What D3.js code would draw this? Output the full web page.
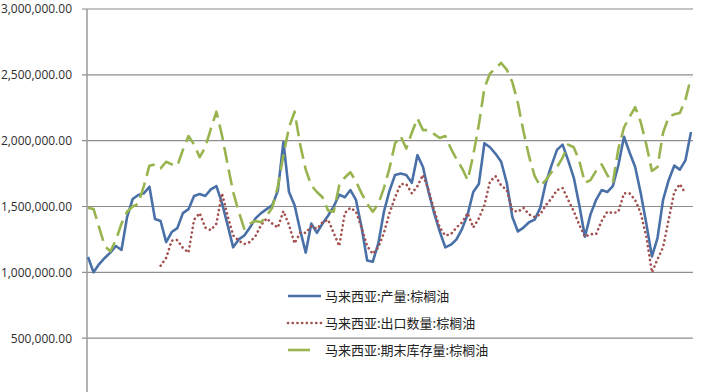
<!DOCTYPE html>
<html>
<head>
<meta charset="utf-8">
<script src="https://cdn.jsdelivr.net/npm/d3@7"></script>
<style>
  body { margin: 0; background: #fff; }
  svg { display: block; }
</style>
</head>
<body>
<div class="box"></div>
<script>
// values in thousands of tonnes, one per month
var production = [1116, 1000, 1063, 1109, 1150, 1200, 1170, 1420, 1557, 1587, 1600, 1650, 1405, 1390, 1230, 1306, 1336, 1450, 1480, 1580,
  1595, 1580, 1630, 1655, 1526, 1360, 1190, 1250, 1280, 1340, 1410, 1450, 1480, 1510, 1620, 1990, 1610, 1510, 1320, 1150,
  1370, 1300, 1370, 1430, 1500, 1590, 1570, 1625, 1550, 1340, 1090, 1080, 1220, 1460, 1620, 1740, 1750, 1740, 1680, 1890,
  1800, 1610, 1450, 1310, 1190, 1210, 1250, 1330, 1440, 1610, 1670, 1980, 1950, 1900, 1840, 1680, 1420, 1310, 1340, 1380,
  1400, 1490, 1680, 1810, 1930, 1970, 1850, 1720, 1510, 1270, 1440, 1550, 1625, 1610, 1655, 1815, 2030, 1910, 1800, 1600,
  1370, 1120, 1260, 1550, 1700, 1810, 1780, 1850, 2065];

var exports = [null, null, null, null, null, null, null, null, null, null, null, null, null, 1050, 1110, 1240, 1245, 1185, 1150, 1400,
  1450, 1340, 1320, 1370, 1600, 1430, 1280, 1240, 1215, 1230, 1275, 1360, 1410, 1370, 1340, 1465, 1360, 1220, 1300, 1300,
  1350, 1330, 1380, 1400, 1300, 1200, 1450, 1490, 1460, 1340, 1200, 1140, 1190, 1300, 1450, 1570, 1670, 1670, 1600, 1655,
  1740, 1625, 1470, 1340, 1280, 1290, 1340, 1380, 1450, 1340, 1410, 1510, 1690, 1730, 1660, 1625, 1470, 1460, 1490, 1440,
  1420, 1440, 1510, 1560, 1625, 1640, 1550, 1465, 1360, 1270, 1290, 1290, 1390, 1460, 1450, 1460, 1600, 1600, 1550, 1450,
  1270, 1000, 1100, 1190, 1400, 1610, 1670, 1600, null];

var stocks = [1490, 1480, 1340, 1200, 1160, 1245, 1370, 1460, 1500, 1520, 1655, 1810, 1820, 1790, 1840, 1820, 1810, 1930, 2035, 1970,
  1875, 1950, 2090, 2220, 2040, 1820, 1610, 1460, 1330, 1370, 1390, 1380, 1430, 1490, 1650, 1890, 2100, 2220, 1970, 1780,
  1660, 1610, 1570, 1470, 1460, 1660, 1720, 1760, 1690, 1600, 1520, 1460, 1520, 1640, 1790, 1980, 2035, 1940, 2060, 2170,
  2080, 2080, 2050, 2020, 2035, 1940, 1860, 1790, 1700, 1890, 2120, 2400, 2510, 2550, 2590, 2540, 2445, 2285, 2070, 1880,
  1730, 1655, 1700, 1760, 1800, 1870, 1970, 1950, 1845, 1680, 1700, 1770, 1820, 1740, 1680, 1940, 2100, 2180, 2255, 2140,
  1970, 1770, 1800, 2060, 2180, 2200, 2210, 2310, 2480];

var seriesNames = ["马来西亚:产量:棕榈油", "马来西亚:出口数量:棕榈油", "马来西亚:期末库存量:棕榈油"];
// the 0 line sits just below the visible area
var yTicks = [500, 1000, 1500, 2000, 2500, 3000];

var width = 720, height = 392;

var svg = d3.create("svg")
  .attr("width", width)
  .attr("height", height)
  .attr("viewBox", [0, 0, width, height]);

var x = d3.scaleLinear().domain([0, production.length - 1]).range([88, 691]);
var y = d3.scaleLinear().domain([0, 3000]).range([404, 9]);

// gridlines
svg.append("g")
  .selectAll("line")
  .data(yTicks)
  .join("line")
  .attr("x1", 82)
  .attr("x2", 693)
  .attr("y1", d => y(d))
  .attr("y2", d => y(d))
  .attr("stroke", d => d === 3000 ? "#c4c4c4" : "#8e8e8e")
  .attr("stroke-width", d => d === 3000 ? 2 : 1.2);

// y axis
var yAxis = svg.append("g")
  .attr("transform", "translate(87,0)")
  .call(d3.axisLeft(y).tickValues(yTicks).tickSize(0).tickPadding(15)
    .tickFormat(d => d3.format(",.2f")(d * 1000)));
yAxis.select(".domain").remove();
yAxis.selectAll("text")
  .attr("fill", "#2e2e2e")
  .style("font-family", "'Open Sans', sans-serif")
  .style("font-size", "12px");

svg.append("line")
  .attr("x1", 87).attr("x2", 87)
  .attr("y1", 9).attr("y2", height)
  .attr("stroke", "#9a9a9a")
  .attr("stroke-width", 1.5);

var line = d3.line()
  .defined(d => d != null)
  .x((d, i) => x(i))
  .y(d => y(d));

var styles = [
  { data: production, color: "#4a70a8", width: 2.6, dash: null, cap: "butt" },
  { data: exports, color: "#a2504e", width: 2.6, dash: "0.1,4.6", cap: "round" },
  { data: stocks, color: "#98b44f", width: 2.6, dash: "16,7", cap: "butt" }
];

svg.append("g")
  .attr("fill", "none")
  .selectAll("path")
  .data(styles)
  .join("path")
  .attr("stroke", d => d.color)
  .attr("stroke-width", d => d.width)
  .attr("stroke-dasharray", d => d.dash)
  .attr("stroke-linecap", d => d.cap)
  .attr("stroke-linejoin", "round")
  .attr("d", d => line(d.data));

// legend
var legend = svg.append("g")
  .selectAll("g")
  .data(styles)
  .join("g")
  .attr("transform", (d, i) => `translate(288,${296 + i * 27})`);

legend.append("line")
  .attr("x1", 0).attr("x2", 33)
  .attr("stroke", d => d.color)
  .attr("stroke-width", d => d.width)
  .attr("stroke-dasharray", (d, i) => i === 2 ? "22,20" : d.dash)
  .attr("stroke-linecap", d => d.cap);

legend.append("text")
  .attr("x", 37)
  .attr("dy", "0.35em")
  .attr("fill", "#222")
  .style("font-family", "'Noto Sans CJK SC', sans-serif")
  .style("font-size", "13px")
  .text((d, i) => seriesNames[i]);

document.querySelector(".box").appendChild(svg.node());
</script>
</body>
</html>
